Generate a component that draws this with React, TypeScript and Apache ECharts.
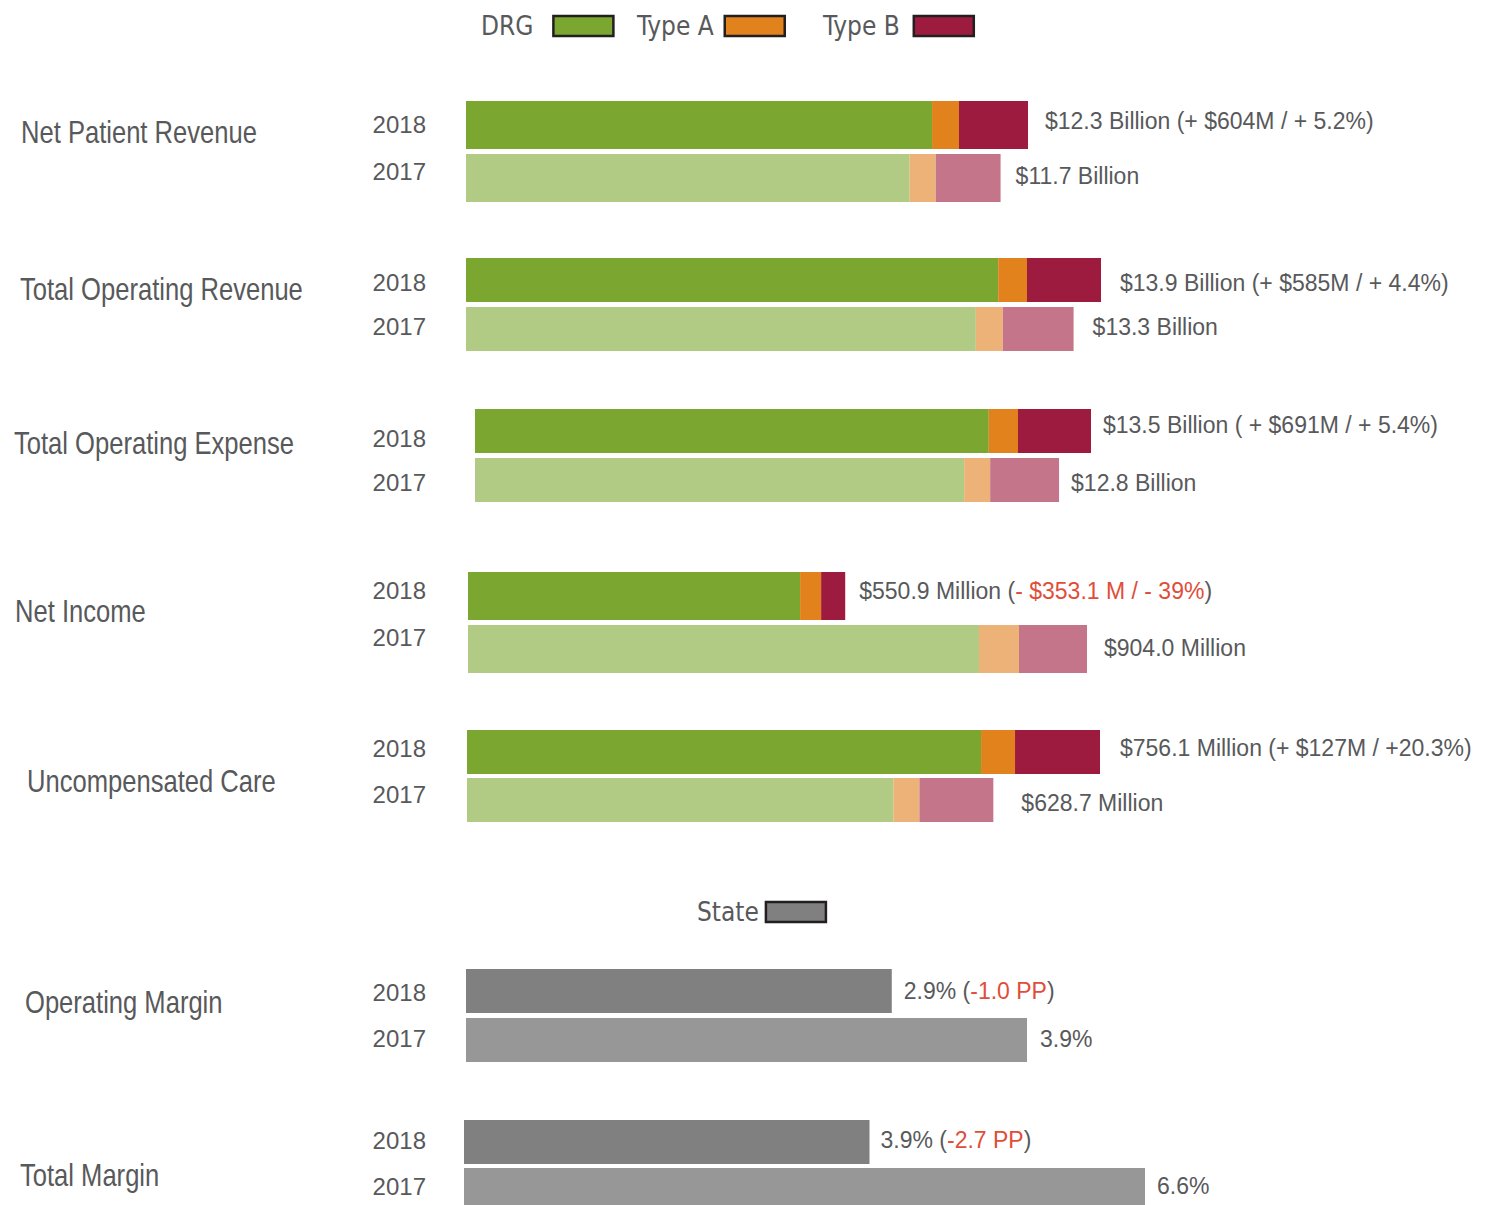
import React, { useEffect, useRef } from 'react';
import * as echarts from 'echarts';

// ---------- data ----------
const years = ['2017', '2018'];
const segmentNames = ['DRG', 'Type A', 'Type B'];
const groupNames = [
  'Net Patient Revenue',
  'Total Operating Revenue',
  'Total Operating Expense',
  'Net Income',
  'Uncompensated Care',
];
// [2017, 2018] per group (billions for first three groups, millions for the rest)
const drgValues = [
  [9.71, 10.2],
  [11.16, 11.65],
  [10.72, 11.26],
  [746.3, 485.0],
  [509.4, 614.0],
];
const typeAValues = [
  [0.57, 0.59],
  [0.59, 0.63],
  [0.57, 0.64],
  [58.4, 30.7],
  [31.0, 40.6],
];
const typeBValues = [
  [1.42, 1.51],
  [1.55, 1.62],
  [1.51, 1.6],
  [99.3, 35.2],
  [88.3, 101.5],
];
const valueLabels = [
  ['$11.7 Billion', '$12.3 Billion (+ $604M / + 5.2%)'],
  ['$13.3 Billion', '$13.9 Billion (+ $585M / + 4.4%)'],
  ['$12.8 Billion', '$13.5 Billion ( + $691M / + 5.4%)'],
  ['$904.0 Million', '$550.9 Million ({r|- $353.1 M / - 39%})'],
  ['$628.7 Million', '$756.1 Million (+ $127M / +20.3%)'],
];
const stateName = 'State';
const stateGroupNames = ['Operating Margin', 'Total Margin'];
const stateValues = [
  [3.9, 2.96],
  [6.6, 3.93],
];
const stateLabels = [
  ['3.9%', '2.9% ({r|-1.0 PP})'],
  ['6.6%', '3.9% ({r|-2.7 PP})'],
];

// ---------- styles / layout ----------
const TEXT = '#58595B';
const RED = '#E04E39';
const NARROW = "'Liberation Sans Narrow', 'DejaVu Sans Condensed', 'Liberation Sans', sans-serif";
const SANS = "'Liberation Sans', Arial, sans-serif";
const darkColors = ['#7BA731', '#E2821C', '#9E1B40'];
const lightColors = ['#B1CA84', '#EDB277', '#C5758A'];
const stateColors = ['#979797', '#808080']; // 2017, 2018

const layout = [
  { left: 466, width: 562, top: 101, bar: 48, gap: 5, labelGap: [15, 17], labelShift: [-2, -4], yearShift: [7, 1] },
  { left: 466, width: 635, top: 258, bar: 44, gap: 5, labelGap: [19, 19], labelShift: [-2, 3], yearShift: [3, -2] },
  { left: 475, width: 616, top: 409, bar: 44, gap: 5, labelGap: [12, 12], labelShift: [3, -6], yearShift: [-2, -7] },
  { left: 468, width: 619, top: 572, bar: 48, gap: 5, labelGap: [17, 14], labelShift: [-1, -5], yearShift: [12, 6] },
  { left: 467, width: 633, top: 730, bar: 44, gap: 4, labelGap: [28, 20], labelShift: [3, -4], yearShift: [6, 4] },
  { left: 466, width: 561, top: 969, bar: 44, gap: 5, labelGap: [13, 12], labelShift: [-1, 0], yearShift: [2, -1] },
  { left: 464, width: 681, top: 1120, bar: 44, gap: 4, labelGap: [12, 11], labelShift: [-4, -2], yearShift: [4, 2] },
];
const titlePos = [
  [21, 132],
  [20, 289],
  [14, 443],
  [15, 611],
  [27, 781],
  [25, 1002],
  [20, 1175],
];

function shiftPad(d: number) {
  return d >= 0 ? [0, 0, 2 * d, 0] : [-2 * d, 0, 0, 0];
}

function buildOption() {
  const grids: any[] = [];
  const xAxes: any[] = [];
  const yAxes: any[] = [];
  const series: any[] = [];

  const labelBase = {
    color: TEXT,
    fontSize: 23,
    fontFamily: SANS,
    rich: { r: { color: RED, fontSize: 23, fontFamily: SANS } },
  };

  const addAxes = (i: number, max: number) => {
    const L = layout[i];
    grids.push({
      left: L.left,
      width: L.width,
      top: L.top - L.gap / 2,
      height: 2 * (L.bar + L.gap),
    });
    xAxes.push({ type: 'value', gridIndex: i, min: 0, max, show: false });
    yAxes.push({
      type: 'category',
      gridIndex: i,
      data: years,
      axisLine: { show: false },
      axisTick: { show: false },
      splitLine: { show: false },
      axisLabel: {
        margin: L.left - 426,
        color: TEXT,
        fontSize: 24,
        fontFamily: SANS,
        formatter: (v: string) => `{y${v}|${v}}`,
        rich: {
          y2017: { color: TEXT, fontSize: 24, fontFamily: SANS, padding: shiftPad(L.yearShift[0]) },
          y2018: { color: TEXT, fontSize: 24, fontFamily: SANS, padding: shiftPad(L.yearShift[1]) },
        },
      },
    });
  };

  const segArrays = [drgValues, typeAValues, typeBValues];
  groupNames.forEach((_, i) => {
    const totals = years.map((_, j) => segArrays.reduce((s, a) => s + a[i][j], 0));
    addAxes(i, Math.max(...totals));
    const L = layout[i];
    segArrays.forEach((arr, k) => {
      series.push({
        type: 'bar',
        name: segmentNames[k],
        xAxisIndex: i,
        yAxisIndex: i,
        stack: 'g' + i,
        barWidth: L.bar,
        itemStyle: { color: darkColors[k] },
        emphasis: { disabled: true },
        data: years.map((_, j) => {
          const item: any = { value: arr[i][j] };
          if (j === 0) item.itemStyle = { color: lightColors[k] };
          if (k === segArrays.length - 1) {
            item.label = {
              show: true,
              position: 'right',
              distance: L.labelGap[j],
              offset: [0, L.labelShift[j]],
              formatter: valueLabels[i][j],
              ...labelBase,
            };
          }
          return item;
        }),
      });
    });
  });

  stateGroupNames.forEach((_, s) => {
    const i = groupNames.length + s;
    addAxes(i, Math.max(...stateValues[s]));
    const L = layout[i];
    series.push({
      type: 'bar',
      name: stateName,
      xAxisIndex: i,
      yAxisIndex: i,
      barWidth: L.bar,
      itemStyle: { color: stateColors[1] },
      emphasis: { disabled: true },
      data: years.map((_, j) => ({
        value: stateValues[s][j],
        itemStyle: { color: stateColors[j] },
        label: {
          show: true,
          position: 'right',
          distance: L.labelGap[j],
          offset: [0, L.labelShift[j]],
          formatter: stateLabels[s][j],
          ...labelBase,
        },
      })),
    });
  });

  const legendBase = {
    orient: 'horizontal',
    padding: 0,
    itemWidth: 60,
    itemHeight: 20,
    align: 'right',
    icon: 'rect',
    selectedMode: false,
    itemStyle: { borderColor: '#231F20', borderWidth: 2.5 },
  };
  const legendTextStyle = (pad: number) => ({
    color: TEXT,
    fontSize: 26,
    fontFamily: NARROW,
    padding: [0, pad, 0, 0],
  });

  const legends = [
    { ...legendBase, data: ['DRG'], left: 481, top: 13, textStyle: legendTextStyle(15) },
    { ...legendBase, data: ['Type A'], left: 637, top: 13, textStyle: legendTextStyle(6) },
    { ...legendBase, data: ['Type B'], left: 823, top: 13, textStyle: legendTextStyle(9) },
    { ...legendBase, data: [stateName], left: 697, top: 899, textStyle: legendTextStyle(2) },
  ];

  const allNames = [...groupNames, ...stateGroupNames];
  const graphic = allNames.map((name, i) => ({
    type: 'text',
    x: titlePos[i][0],
    y: titlePos[i][1],
    scaleX: 0.825,
    silent: true,
    style: {
      text: name,
      fill: TEXT,
      fontSize: 31,
      fontFamily: SANS,
      align: 'left',
      verticalAlign: 'middle',
    },
  }));

  return {
    animation: false,
    backgroundColor: '#ffffff',
    grid: grids,
    xAxis: xAxes,
    yAxis: yAxes,
    legend: legends,
    graphic,
    series,
  };
}

export default function App() {
  const ref = useRef<HTMLDivElement>(null);
  useEffect(() => {
    if (!ref.current) return;
    const chart = echarts.init(ref.current, null, { renderer: 'svg' });
    chart.setOption(buildOption() as any);
    return () => chart.dispose();
  }, []);
  return (
    <div
      style={{
        position: 'absolute',
        left: 0,
        top: 0,
        width: 1494,
        height: 1205,
        overflow: 'hidden',
        background: '#fff',
      }}
    >
      <div ref={ref} style={{ width: 1494, height: 1230 }} />
    </div>
  );
}
